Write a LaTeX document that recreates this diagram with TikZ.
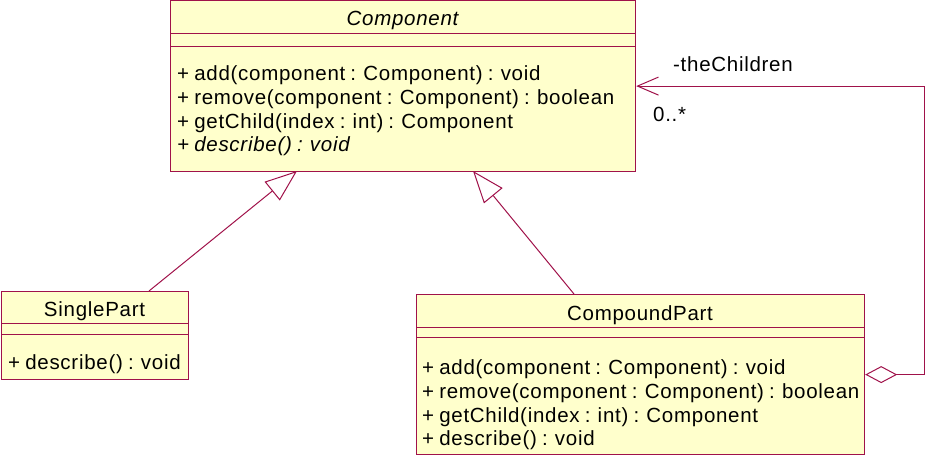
\documentclass[tikz,border=0pt]{standalone}
\usepackage{fontspec}
\setmainfont{Liberation Sans}
\newfontfamily\umlfont[LetterSpace=3.5, WordSpace=0.8]{Liberation Sans}
\usetikzlibrary{arrows.meta}
\definecolor{umlred}{RGB}{160,18,74}
\definecolor{umlfill}{RGB}{255,255,204}
\tikzset{
  classbox/.style={draw=umlred, fill=umlfill, line width=1.2pt, anchor=north west, inner sep=0pt},
  sepline/.style={draw=umlred, line width=1pt},
  txt/.style={anchor=base west, inner sep=0pt, font=\umlfont\fontsize{20.5}{24}\selectfont},
  ttl/.style={anchor=base, inner sep=0pt, font=\umlfont\fontsize{20.5}{24}\selectfont},
  inherit/.style={draw=umlred, line width=1pt, -{Triangle[open, length=32pt, width=24pt, fill=white]}},
  aggr/.style={draw=umlred, line width=1pt, {Diamond[open, length=32pt, width=17pt, fill=white]}-{Straight Barb[length=21pt, width=18pt]}}
}
\begin{document}
\begin{tikzpicture}[x=1pt, y=-1pt]
\useasboundingbox (0,0) rectangle (928,457);
% Component
\node[classbox, minimum width=465pt, minimum height=171pt] (comp) at (170,0) {};
\draw[sepline] ([yshift=-34pt]comp.north west) -- ([yshift=-34pt]comp.north east);
\draw[sepline] ([yshift=-47pt]comp.north west) -- ([yshift=-47pt]comp.north east);
\node[ttl] (compT) at (402.5,26) {\itshape Component};
\node[txt] (compM1) at (177,81) {+ add(component : Component) : void};
\node[txt] (compM2) at (177,105) {+ remove(component : Component) : boolean};
\node[txt] (compM3) at (177,129) {+ getChild(index : int) : Component};
\node[txt] (compM4) at (177,152) {\itshape + describe() : void};
% SinglePart
\node[classbox, minimum width=187pt, minimum height=88pt] (sp) at (1,291) {};
\draw[sepline] ([yshift=-32pt]sp.north west) -- ([yshift=-32pt]sp.north east);
\draw[sepline] ([yshift=-43pt]sp.north west) -- ([yshift=-43pt]sp.north east);
\node[ttl] (spT) at (94.5,316) {SinglePart};
\node[txt] (spM1) at (8,369) {+ describe() : void};
% CompoundPart
\node[classbox, minimum width=448pt, minimum height=160pt] (cp) at (416,294) {};
\draw[sepline] ([yshift=-33.5pt]cp.north west) -- ([yshift=-33.5pt]cp.north east);
\draw[sepline] ([yshift=-43pt]cp.north west) -- ([yshift=-43pt]cp.north east);
\node[ttl] (cpT) at (640,320.5) {CompoundPart};
\node[txt] (cpM1) at (422,374) {+ add(component : Component) : void};
\node[txt] (cpM2) at (422,398) {+ remove(component : Component) : boolean};
\node[txt] (cpM3) at (422,422) {+ getChild(index : int) : Component};
\node[txt] (cpM4) at (422,445) {+ describe() : void};
% generalizations
\coordinate (spTop) at (149,291);
\coordinate (compB1) at (297,171);
\coordinate (cpTop) at (574,294);
\coordinate (compB2) at (473,171);
\draw[inherit] (spTop) -- (compB1);
\draw[inherit] (cpTop) -- (compB2);
% aggregation
\draw[aggr] (cp.east) -- ++(59,0) |- (comp.east);
\node[txt] (role) at (673,72) {-theChildren};
\node[txt] (mult) at (653,122) {0..*};
\end{tikzpicture}
\end{document}
